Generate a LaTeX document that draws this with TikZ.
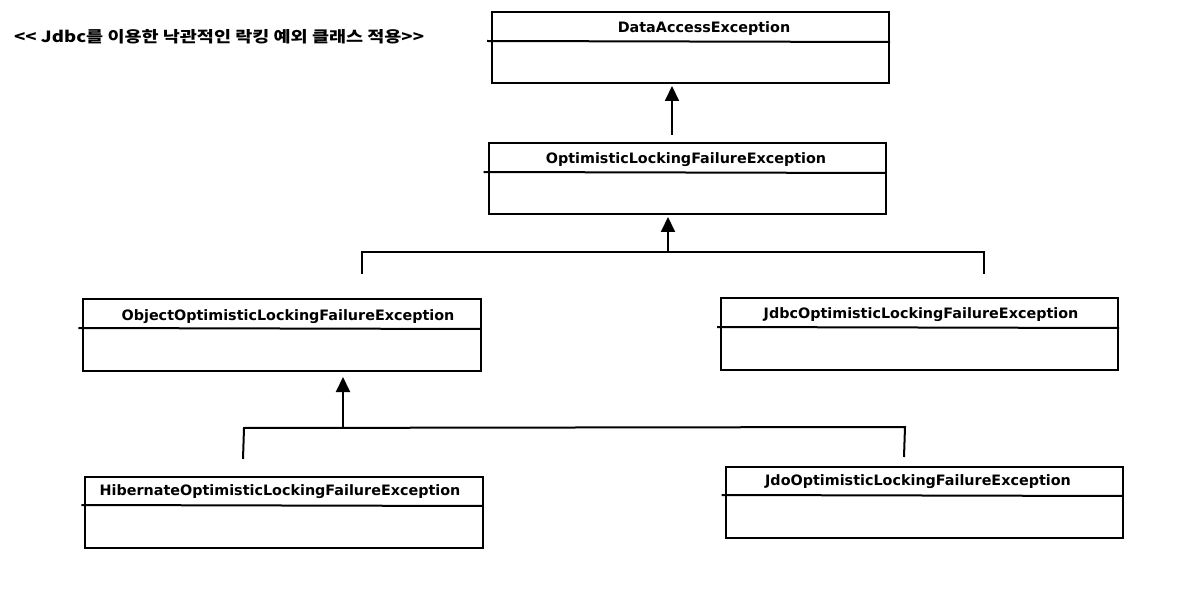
\documentclass[tikz,border=0pt]{standalone}
\usepackage{fontspec}
\setmainfont{DejaVu Sans}
\newfontfamily\krfont{Noto Sans CJK KR}
\usetikzlibrary{arrows.meta}
\begin{document}
\begin{tikzpicture}[x=1bp,y=-1bp,
  ln/.style={line width=2bp, black},
  cls/.style={ln, draw, rectangle, minimum width=397bp, minimum height=71bp, inner sep=0pt},
  lbl/.style={font=\bfseries\fontsize{14.4}{16}\selectfont, inner sep=0pt, anchor=center},
  inh/.style={ln, -{Triangle[length=15bp,width=14bp]}}]
\useasboundingbox[fill=white] (0,0) rectangle (1184,599);
\node[font=\krfont\bfseries\fontsize{15.5}{17}\selectfont, anchor=west, inner sep=0pt] (title) at (14,37) {\scalebox{1.2}[1]{<< Jdbc를 이용한 낙관적인 락킹 예외 클래스 적용>>}};
% boxes
\node[cls] (dae) at (690.5,47.5) {};
\node[cls] (olfe) at (687,179) {};
\node[cls] (oolfe) at (282,335) {};
\node[cls] (jdbc) at (919.5,334) {};
\node[cls] (hib) at (284,512) {};
\node[cls] (jdo) at (924,502) {};
% labels
\node[lbl] (daet) at (704,29) {DataAccessException};
\node[lbl] (olfet) at (686,160) {OptimisticLockingFailureException};
\node[lbl] (oolfet) at (288,317) {ObjectOptimisticLockingFailureException};
\node[lbl] (jdbct) at (921,315) {JdbcOptimisticLockingFailureException};
\node[lbl] (hibt) at (280,492) {HibernateOptimisticLockingFailureException};
\node[lbl] (jdot) at (918,482) {JdoOptimisticLockingFailureException};
% dividers
\draw[ln] ([xshift=-4bp]dae.west |- 0,41) -- (dae.east |- 0,42);
\draw[ln] ([xshift=-4bp]olfe.west |- 0,172) -- (olfe.east |- 0,173);
\draw[ln] ([xshift=-4bp]oolfe.west |- 0,328) -- (oolfe.east |- 0,329);
\draw[ln] ([xshift=-3bp]jdbc.west |- 0,327) -- (jdbc.east |- 0,328);
\draw[ln] ([xshift=-3bp]hib.west |- 0,505) -- (hib.east |- 0,506);
\draw[ln] ([xshift=-3bp]jdo.west |- 0,495) -- (jdo.east |- 0,496);
% connectors
\coordinate (a1s) at (672,135);
\coordinate (a1e) at (672,86);
\draw[inh] (a1s) -- (a1e);
\coordinate (b1) at (668,252);
\coordinate (b1e) at (668,217);
\coordinate (bl) at (362,252);
\coordinate (bla) at (362,274);
\coordinate (br) at (984,252);
\coordinate (bra) at (984,274);
\draw[ln] (bla) -- (bl) -- (br) -- (bra);
\draw[inh] (b1) -- (b1e);
\coordinate (c1) at (343,428);
\coordinate (c1e) at (343,377);
\coordinate (cl) at (244,428);
\coordinate (cla) at (243,459);
\coordinate (cr) at (905,427);
\coordinate (cra) at (904,457);
\draw[ln] (cla) -- (cl) -- (cr) -- (cra);
\draw[inh] (c1) -- (c1e);
\end{tikzpicture}
\end{document}
